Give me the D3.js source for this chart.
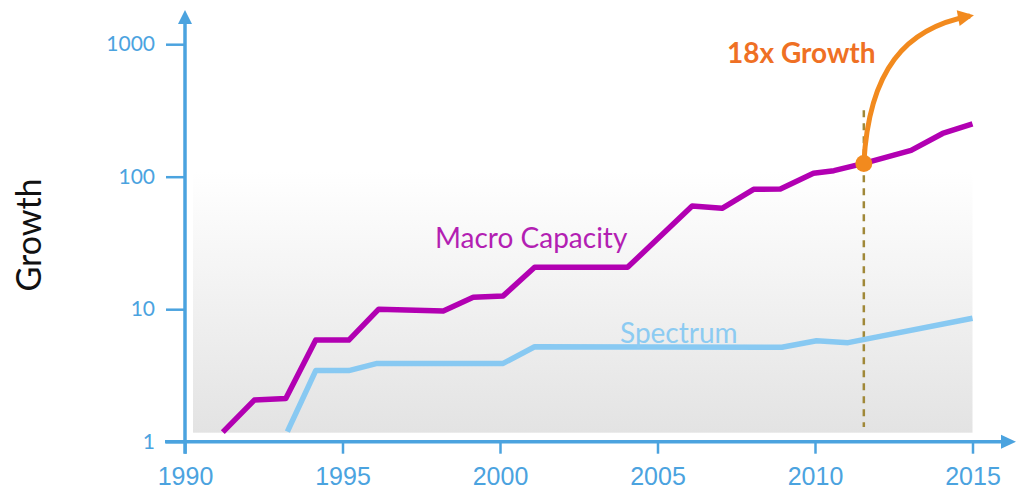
<!DOCTYPE html>
<html lang="en">
<head>
  <meta charset="UTF-8">
  <title>Growth</title>
  <script src="https://cdn.jsdelivr.net/npm/d3@7"></script>
  <style>
    body { margin: 0; background: #fff; }
  </style>
</head>
<body>
  <svg width="1017" height="495"></svg>
  <script>
    // data
    var macroYears = [1991.2, 1992.2, 1993.2, 1994.15, 1995.2, 1996.15, 1998.2, 1999.15, 2000.1, 2001.1, 2004.05, 2006.1, 2007.05, 2008.05, 2008.9, 2009.95, 2010.6, 2011.55, 2013.05, 2014.05, 2015];
    var macroValues = [1.18, 2.06, 2.12, 5.85, 5.85, 10, 9.7, 12.3, 12.6, 20.7, 20.7, 60, 57.7, 80.3, 80.8, 106, 111, 126, 158, 212, 250];
    var spectrumYears = [1993.25, 1994.15, 1995.2, 1996.1, 2000.1, 2001.1, 2008.95, 2010.05, 2011.05, 2015];
    var spectrumValues = [1.19, 3.44, 3.44, 3.9, 3.9, 5.21, 5.16, 5.78, 5.59, 8.54];
    var xTicks = [1990, 1995, 2000, 2005, 2010, 2015];
    var yTicks = [1, 10, 100, 1000];
    // annotation: marker point and growth arrow (year, value)
    var markerYear = 2011.55, markerValue = 126;
    var dashRange = [1.29, 318];
    var arrowYears = [2011.55, 2011.71, 2012.86, 2014.92];
    var arrowValues = [126, 638, 1325, 1633];

    var axisColor = '#4ba3df';
    var svg = d3.select('svg');

    var x = d3.scaleLinear().domain([1990, 2015]).range([185, 972.5]);
    var y = d3.scaleLog().domain([1, 1000]).range([441.7, 44.2]);

    var defs = svg.append('defs');
    var grad = defs.append('linearGradient')
      .attr('id', 'bg').attr('x1', 0).attr('y1', 0).attr('x2', 0).attr('y2', 1);
    grad.append('stop').attr('offset', '0%').attr('stop-color', '#ffffff');
    grad.append('stop').attr('offset', '100%').attr('stop-color', '#e3e3e3');

    svg.append('rect')
      .attr('x', x(1990) + 8).attr('y', y(110))
      .attr('width', x(2015) - x(1990) - 8)
      .attr('height', y(1) - 9 - y(110))
      .attr('fill', 'url(#bg)');

    // axes
    var yAxis = svg.append('g')
      .attr('transform', 'translate(' + x(1990) + ',0)')
      .call(d3.axisLeft(y).tickValues(yTicks).tickFormat(d3.format('d')).tickSize(19).tickPadding(11));
    yAxis.select('.domain').remove();
    yAxis.selectAll('line').attr('stroke', axisColor).attr('stroke-width', 2.5);
    yAxis.selectAll('text').attr('fill', axisColor)
      .style('font-family', 'Lato, sans-serif').style('font-size', '21px');

    var xAxis = svg.append('g')
      .attr('transform', 'translate(0,' + y(1) + ')')
      .call(d3.axisBottom(x).tickValues(xTicks).tickFormat(d3.format('d')).tickSize(12).tickPadding(14));
    xAxis.select('.domain').remove();
    xAxis.selectAll('line').attr('stroke', axisColor).attr('stroke-width', 2.5);
    xAxis.selectAll('text').attr('fill', axisColor)
      .style('font-family', '"Liberation Sans", Arial, sans-serif').style('font-size', '25px');

    // axis lines with arrow heads
    svg.append('line')
      .attr('x1', x(1990)).attr('x2', x(1990))
      .attr('y1', y(1) + 12).attr('y2', 22)
      .attr('stroke', axisColor).attr('stroke-width', 3.5);
    svg.append('path')
      .attr('d', 'M' + (x(1990) - 7) + ',24 L' + x(1990) + ',10 L' + (x(1990) + 7) + ',24 Z')
      .attr('fill', axisColor);
    svg.append('line')
      .attr('x1', x(1990) - 20).attr('x2', 1003)
      .attr('y1', y(1)).attr('y2', y(1))
      .attr('stroke', axisColor).attr('stroke-width', 3.5);
    svg.append('path')
      .attr('d', 'M1001,' + (y(1) - 7) + ' L1016,' + y(1) + ' L1001,' + (y(1) + 7) + ' Z')
      .attr('fill', axisColor);

    // y axis title
    svg.append('text')
      .attr('transform', 'translate(41,235) rotate(-90)')
      .attr('text-anchor', 'middle')
      .attr('fill', '#111')
      .style('font-family', 'Lato, sans-serif').style('font-size', '34px')
      .text('Growth');

    var line = d3.line()
      .x(function(d) { return x(d[0]); })
      .y(function(d) { return y(d[1]); });

    // dashed marker line
    svg.append('line')
      .attr('x1', x(markerYear)).attr('x2', x(markerYear))
      .attr('y1', y(dashRange[1])).attr('y2', y(dashRange[0]))
      .attr('stroke', '#a08838').attr('stroke-width', 2.5)
      .attr('stroke-dasharray', '7,6');

    svg.append('path')
      .datum(d3.zip(spectrumYears, spectrumValues))
      .attr('fill', 'none')
      .attr('stroke', '#88c9f2')
      .attr('stroke-width', 5.5)
      .attr('stroke-linejoin', 'round')
      .attr('d', line);

    svg.append('path')
      .datum(d3.zip(macroYears, macroValues))
      .attr('fill', 'none')
      .attr('stroke', '#b200b2')
      .attr('stroke-width', 5.5)
      .attr('stroke-linejoin', 'round')
      .attr('d', line);

    // growth arrow
    var ap = d3.zip(arrowYears, arrowValues).map(function(d) { return [x(d[0]), y(d[1])]; });
    svg.append('path')
      .attr('d', 'M' + ap[0] + ' C' + ap[1] + ' ' + ap[2] + ' ' + ap[3])
      .attr('fill', 'none')
      .attr('stroke', '#f28a1e')
      .attr('stroke-width', 5);
    var tip = ap[3], ang = Math.atan2(ap[3][1] - ap[2][1], ap[3][0] - ap[2][0]);
    var head = [[4, 0], [-12, -8], [-12, 8]].map(function(p) {
      return [tip[0] + p[0] * Math.cos(ang) - p[1] * Math.sin(ang), tip[1] + p[0] * Math.sin(ang) + p[1] * Math.cos(ang)];
    });
    svg.append('path')
      .attr('d', 'M' + head.join('L') + 'Z')
      .attr('fill', '#f28a1e');

    svg.append('circle')
      .attr('cx', x(markerYear)).attr('cy', y(markerValue))
      .attr('r', 8.5)
      .attr('fill', '#f28a1e');

    // labels
    svg.append('text')
      .attr('x', 435).attr('y', 248)
      .attr('fill', '#b31fb3')
      .style('font-family', 'Lato, sans-serif').style('font-size', '28px')
      .text('Macro Capacity');
    svg.append('text')
      .attr('x', 620).attr('y', 343)
      .attr('fill', '#8ccbf2')
      .style('font-family', 'Lato, sans-serif').style('font-size', '28px')
      .text('Spectrum');
    svg.append('text')
      .attr('x', 727).attr('y', 63)
      .attr('fill', '#ef7024')
      .style('font-family', 'Lato, sans-serif').style('font-size', '28px').style('font-weight', 'bold')
      .text('18x Growth');
  </script>
</body>
</html>
